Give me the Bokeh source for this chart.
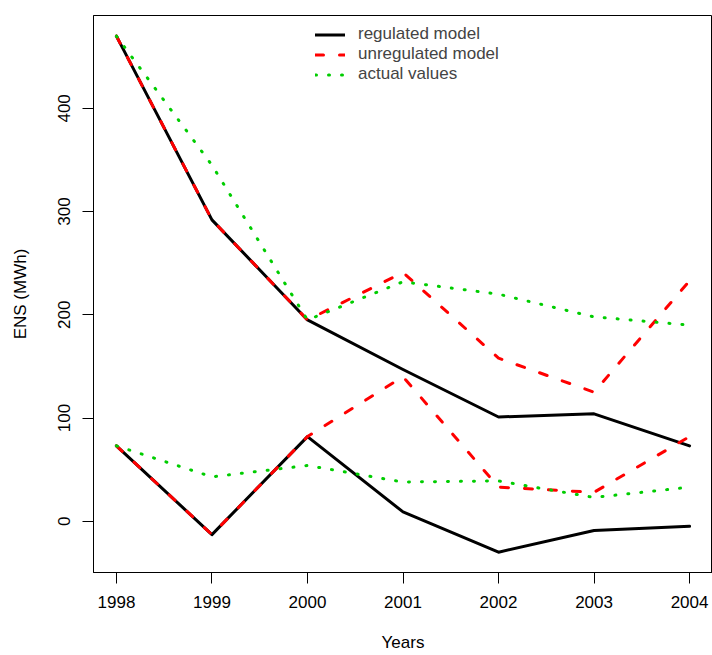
from bokeh.plotting import figure
from bokeh.models import Range1d, FixedTicker, Legend, LegendItem
from bokeh.embed import file_html
from bokeh.resources import INLINE

years = [1998, 1999, 2000, 2001, 2002, 2003, 2004]
regulated_upper = [470, 292, 195, 147, 101, 104, 73]
unregulated_upper = [470, 292, 195, 241, 158, 125, 233]
actual_upper = [470, 345, 195, 232, 220, 198, 190]
regulated_lower = [73, -13, 82, 9, -30, -9, -5]
unregulated_lower = [73, -13, 82, 140, 33, 28, 82]
actual_lower = [73, 43, 54, 38, 39, 23, 33]
y_ticks = [0, 100, 200, 300, 400]
labels = ["regulated model", "unregulated model", "actual values"]

FONT = "Liberation Sans"

p = figure(width=712, height=655, output_backend="svg", toolbar_location=None,
           x_range=Range1d(1997.76, 2004.24), y_range=Range1d(-49.7, 490),
           min_border_left=93, min_border_right=0, min_border_top=15, min_border_bottom=83)
p.background_fill_color = "white"
p.border_fill_color = "white"
p.outline_line_color = "black"
p.outline_line_width = 1
p.xgrid.visible = False
p.ygrid.visible = False

for ax in (p.xaxis[0], p.yaxis[0]):
    ax.major_tick_in = 0
    ax.major_tick_out = 11
    ax.minor_tick_line_color = None
    ax.axis_line_color = "black"
    ax.major_tick_line_color = "black"
    ax.major_label_text_font = FONT
    ax.major_label_text_font_size = "17px"
    ax.major_label_text_color = "black"
    ax.axis_label_text_font = FONT
    ax.axis_label_text_font_size = "17px"
    ax.axis_label_text_font_style = "normal"
    ax.axis_label_text_color = "black"

p.xaxis.ticker = FixedTicker(ticks=years)
p.yaxis.ticker = FixedTicker(ticks=y_ticks)
p.xaxis.axis_label = "Years"
p.yaxis.axis_label = "ENS (MWh)"
p.yaxis.major_label_orientation = "vertical"
p.xaxis.major_label_standoff = 12
p.yaxis.major_label_standoff = 12
p.xaxis.axis_label_standoff = 22
p.yaxis.axis_label_standoff = 26

r1 = p.line(years, regulated_upper, line_color="black", line_width=3, line_join="round", line_cap="round")
r1b = p.line(years, regulated_lower, line_color="black", line_width=3, line_join="round", line_cap="round")
r2 = p.line(years, unregulated_upper, line_color="#FF0000", line_width=3, line_dash="8 16", line_cap="round", line_join="round")
r2b = p.line(years, unregulated_lower, line_color="#FF0000", line_width=3, line_dash="8 16", line_cap="round", line_join="round")
r3 = p.line(years, actual_upper, line_color="#00CD00", line_width=3, line_dash="1 12", line_cap="round", line_join="round")
r3b = p.line(years, actual_lower, line_color="#00CD00", line_width=3, line_dash="1 12", line_cap="round", line_join="round")

legend = Legend(items=[LegendItem(label=labels[0], renderers=[r1]),
                       LegendItem(label=labels[1], renderers=[r2]),
                       LegendItem(label=labels[2], renderers=[r3])],
                location=(222, 488), padding=0, margin=0, spacing=0,
                glyph_width=30, glyph_height=19, label_height=19, label_standoff=13,
                label_text_font=FONT, label_text_font_size="17px",
                border_line_alpha=0, background_fill_alpha=0)
p.add_layout(legend, "center")

open("out.html", "w").write(file_html(p, INLINE))
